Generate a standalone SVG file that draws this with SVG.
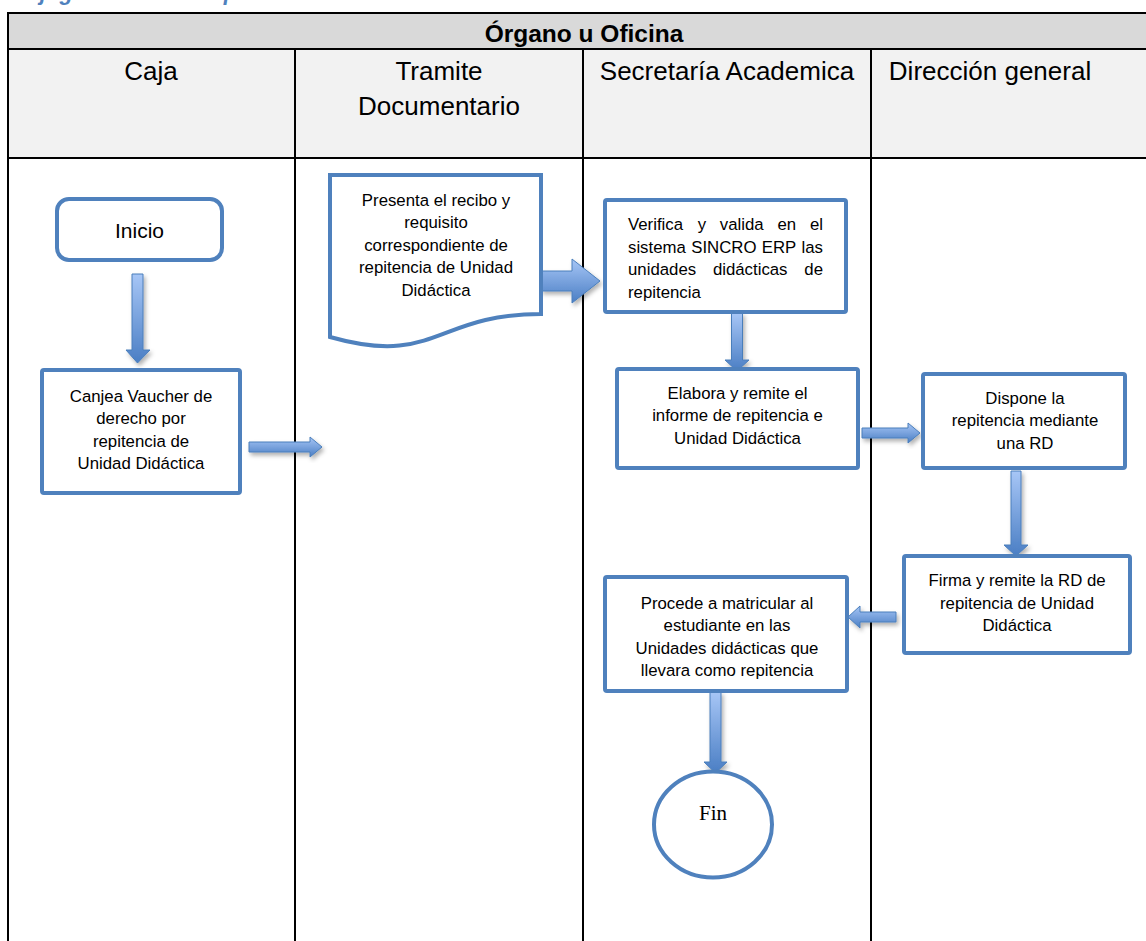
<svg xmlns="http://www.w3.org/2000/svg" width="1146" height="941" viewBox="0 0 1146 941">
<style>
.grid{stroke:#000;stroke-width:2;fill:none}
.box{fill:#fff;stroke:#4f81bd;stroke-width:4}
.hd{font-family:"Liberation Sans",Arial,sans-serif;font-size:26px;fill:#000;text-anchor:middle}
.ttl{font-family:"Liberation Sans",Arial,sans-serif;font-size:24.5px;font-weight:bold;fill:#000;text-anchor:middle}
.t{font-family:"Liberation Sans",Arial,sans-serif;font-size:16.8px;fill:#000;text-anchor:middle}
.tj{font-family:"Liberation Sans",Arial,sans-serif;font-size:16.8px;fill:#000}
.arr{fill:url(#ag);stroke:#4a7ebb;stroke-width:1;filter:url(#sh)}
</style>
<defs>
<linearGradient id="ag" x1="0" y1="0" x2="0" y2="1">
<stop offset="0" stop-color="#a7c6f6"/>
<stop offset="1" stop-color="#4a7ec4"/>
</linearGradient>
<filter id="sh" x="-30%" y="-30%" width="160%" height="160%">
<feDropShadow dx="2" dy="3" stdDeviation="2" flood-color="#000" flood-opacity="0.3"/>
</filter>
</defs>

<g id="caption">
<text x="7" y="0" font-family="'Liberation Sans',Arial,sans-serif" font-size="22" font-weight="bold" font-style="italic" fill="#4f81bd">Flujograma de <tspan x="203">repitencia</tspan></text>
</g>

<g id="table">
<rect x="8" y="13" width="1140" height="36" fill="#d9d9d9"/>
<rect x="8" y="49" width="1140" height="109" fill="#f2f2f2"/>
<path class="grid" d="M8,941 V13 H1148 M8,49 H1148 M8,158 H1148 M295,49 V941 M583,49 V941 M871,49 V941"/>
<text class="ttl" x="584" y="42">Órgano u Oficina</text>
<text class="hd" x="151" y="80">Caja</text>
<text class="hd" x="439" y="80">Tramite</text>
<text class="hd" x="439" y="115">Documentario</text>
<text class="hd" x="727" y="80">Secretaría Academica</text>
<text class="hd" x="990" y="80">Dirección general</text>
</g>

<g id="connectors">
<path class="arr" d="M132,274 H143 V350 H150 L137.5,363 L126,350 H132 Z"/>
<path class="arr" d="M249,442 H310 V437 L322,447 L310,457 V452 H249 Z"/>
<path class="arr" d="M541,271 H572 V259 L600,281 L572,303 V291 H541 Z"/>
<path class="arr" d="M731.5,313 H742.5 V360 H749 L737,371 L725,360 H731.5 Z"/>
<path class="arr" d="M862,428 H908 V423 L920,433 L908,443 V438 H862 Z"/>
<path class="arr" d="M1011,471 H1021 V545 H1028 L1016,556 L1004,545 H1011 Z"/>
<path class="arr" d="M896,612 H860 V606 L848,617 L860,628 V622 H896 Z"/>
<path class="arr" d="M710,692 H721 V762 H727 L715.5,773 L704,762 H710 Z"/>
</g>

<g id="inicio">
<rect class="box" x="57" y="199" width="165" height="61" rx="12" stroke-width="4.5"/>
<text class="t" x="139.5" y="238" style="font-size:21px">Inicio</text>
</g>

<g id="canjea">
<rect class="box" x="42" y="370" width="198" height="123" rx="2"/>
<text class="t" x="141" y="401.5">Canjea Vaucher de</text>
<text class="t" x="141" y="424">derecho por</text>
<text class="t" x="141" y="446.5">repitencia de</text>
<text class="t" x="141" y="469">Unidad Didáctica</text>
</g>

<g id="presenta">
<path class="box" d="M330,175 H541 V314 C435.5,314 435.5,367 330,337 Z"/>
<text class="t" x="436" y="205.5">Presenta el recibo y</text>
<text class="t" x="436" y="228">requisito</text>
<text class="t" x="436" y="250.5">correspondiente de</text>
<text class="t" x="436" y="273">repitencia de Unidad</text>
<text class="t" x="436" y="295.5">Didáctica</text>
</g>

<g id="verifica">
<rect class="box" x="605" y="200" width="241" height="112" rx="2"/>
<text class="tj" x="628" y="230">Verifica</text>
<text class="tj" x="697.7" y="230">y</text>
<text class="tj" x="719.8" y="230">valida</text>
<text class="tj" x="777.4" y="230">en</text>
<text class="tj" x="823" y="230" text-anchor="end">el</text>
<text class="tj" x="628" y="252.5">sistema</text>
<text class="tj" x="691.2" y="252.5">SINCRO</text>
<text class="tj" x="761.8" y="252.5">ERP</text>
<text class="tj" x="823" y="252.5" text-anchor="end">las</text>
<text class="tj" x="628" y="275">unidades</text>
<text class="tj" x="712.9" y="275">didácticas</text>
<text class="tj" x="823" y="275" text-anchor="end">de</text>
<text class="tj" x="628" y="297.5">repitencia</text>
</g>

<g id="elabora">
<rect class="box" x="617" y="369" width="241" height="99" rx="2"/>
<text class="t" x="737.5" y="398.5">Elabora y remite el</text>
<text class="t" x="737.5" y="421">informe de repitencia e</text>
<text class="t" x="737.5" y="443.5">Unidad Didáctica</text>
</g>

<g id="dispone">
<rect class="box" x="923" y="374" width="202" height="94" rx="2"/>
<text class="t" x="1025" y="403.5">Dispone la</text>
<text class="t" x="1025" y="426">repitencia mediante</text>
<text class="t" x="1025" y="448.5">una RD</text>
</g>

<g id="firma">
<rect class="box" x="904" y="556" width="226" height="97" rx="2"/>
<text class="t" x="1017" y="586">Firma y remite la RD de</text>
<text class="t" x="1017" y="608.5">repitencia de Unidad</text>
<text class="t" x="1017" y="631">Didáctica</text>
</g>

<g id="procede">
<rect class="box" x="605" y="577" width="242" height="114" rx="2"/>
<text class="t" x="727" y="608.5">Procede a matricular al</text>
<text class="t" x="727" y="631">estudiante en las</text>
<text class="t" x="727" y="653.5">Unidades didácticas que</text>
<text class="t" x="727" y="676">llevara como repitencia</text>
</g>

<g id="fin">
<ellipse class="box" cx="713" cy="824.5" rx="59" ry="53" stroke-width="4.5"/>
<text x="713" y="820" font-family="'Liberation Serif','Times New Roman',serif" font-size="21" text-anchor="middle" fill="#000">Fin</text>
</g>
</svg>
